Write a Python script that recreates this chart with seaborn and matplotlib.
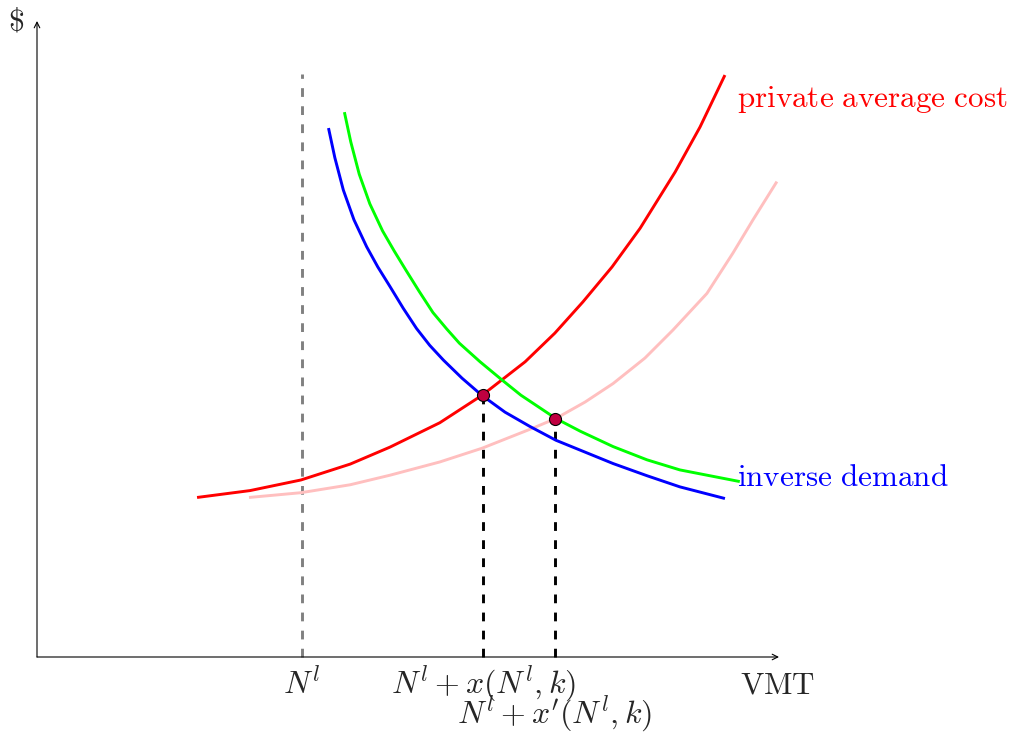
import matplotlib
matplotlib.use("Agg")
import matplotlib.pyplot as plt
import seaborn as sns
import pandas as pd

# ---- data (in diagram units) ----
red_x = [3.02, 4.02, 4.98, 5.91, 6.66, 7.60, 8.40, 9.21, 9.77, 10.30, 10.85, 11.38, 12.04, 12.51, 12.98]
red_y = [3.01, 3.14, 3.34, 3.64, 3.96, 4.42, 4.94, 5.57, 6.11, 6.70, 7.36, 8.09, 9.15, 10.00, 10.98]

pink_x = [4.00, 4.98, 5.91, 6.66, 7.60, 8.40, 9.36, 9.79, 10.34, 10.87, 11.47, 12.00, 12.64, 13.13, 13.51, 13.96]
pink_y = [3.01, 3.10, 3.25, 3.43, 3.68, 3.94, 4.32, 4.50, 4.81, 5.16, 5.64, 6.17, 6.86, 7.62, 8.25, 8.97]

blue_x = [5.50, 5.62, 5.78, 5.98, 6.22, 6.43, 6.66, 6.91, 7.16, 7.41, 7.67, 8.02, 8.39, 8.83, 9.30, 9.79,
          10.87, 11.51, 12.13, 12.98]
blue_y = [9.98, 9.42, 8.81, 8.25, 7.74, 7.36, 6.99, 6.58, 6.20, 5.88, 5.60, 5.26, 4.94, 4.62, 4.35, 4.09,
          3.65, 3.42, 3.21, 2.99]

green_x = [5.80, 5.92, 6.08, 6.28, 6.52, 6.74, 6.96, 7.21, 7.47, 7.73, 7.97, 8.36, 8.77, 9.13, 9.79, 10.25,
           10.87, 11.51, 12.13, 13.26]
green_y = [10.28, 9.72, 9.11, 8.55, 8.04, 7.66, 7.30, 6.90, 6.50, 6.19, 5.92, 5.57, 5.23, 4.94, 4.50, 4.26,
           3.97, 3.72, 3.53, 3.31]

eq_x = [8.42, 9.78]
eq_y = [4.95, 4.50]

n_l = 5.0
n_l_top = 11.0
x_max = 14.0
y_max = 12.0

tick_labels = [r"$N^l$", r"$N^l + x(N^l,k)$", r"$N^l + x'(N^l,k)$"]

# ---- style ----
sns.set_theme(style="white")
plt.rcParams["mathtext.fontset"] = "cm"
plt.rcParams["font.family"] = ["DejaVu Serif", "DejaVu Sans"]

fig = plt.figure(figsize=(10.14, 7.36), dpi=100)
ax = fig.add_axes([0, 0, 1, 1])

lw = 2.1

# axes with arrows
arrow = dict(arrowstyle="->", lw=0.8, color="black", shrinkA=0, shrinkB=0, mutation_scale=10)
ax.annotate("", xy=(x_max, 0), xytext=(0, 0), arrowprops=arrow)
ax.annotate("", xy=(0, y_max), xytext=(0, 0), arrowprops=arrow)

# dashed guide lines
ax.plot([n_l, n_l], [0, n_l_top], color="#808080", lw=lw, linestyle=(0, (3.0, 3.2)), zorder=2)
for xx, yy in zip(eq_x, eq_y):
    ax.plot([xx, xx], [0, yy], color="black", lw=lw, linestyle=(0, (3.0, 3.2)), zorder=2)

# curves
curves = [
    (pink_x, pink_y, "#FFBFBF"),
    (red_x, red_y, "#FF0000"),
    (green_x, green_y, "#00FF00"),
    (blue_x, blue_y, "#0000FF"),
]
for xs, ys, c in curves:
    df = pd.DataFrame({"x": xs, "y": ys})
    sns.lineplot(data=df, x="x", y="y", ax=ax, color=c, lw=lw, estimator=None, sort=False, zorder=3,
                 solid_joinstyle="round", solid_capstyle="butt")

# equilibrium points
sns.scatterplot(x=eq_x, y=eq_y, ax=ax, s=75, color="#BF0040", edgecolor="black", linewidth=0.8, zorder=5)

ax.set_xlim(-37 / 53, (1014 - 37) / 53)
ax.set_ylim(-(736 - 657) / 53, 657 / 53)
ax.axis("off")

fs = 22.4
fm = 23.0
# labels
ax.text(-0.40, 11.98, r"$\$$", fontsize=fm, ha="center", va="center")
ax.text(13.98, -0.68, r"$\mathrm{VMT}$", fontsize=fs, ha="center", va="baseline")
ax.text(n_l, -0.68, tick_labels[0], fontsize=fm, ha="center", va="baseline")
ax.text(eq_x[0], -0.68, tick_labels[1], fontsize=fm, ha="center", va="baseline")
ax.text(eq_x[1] - 0.01, -1.25, tick_labels[2], fontsize=fm, ha="center", va="baseline")
ax.text(13.20, 10.38, r"$\mathrm{private\ average\ cost}$", fontsize=fs, color="#FF0000",
        ha="left", va="baseline")
ax.text(13.20, 3.23, r"$\mathrm{inverse\ demand}$", fontsize=fs, color="#0000FF",
        ha="left", va="baseline")

fig.savefig("out.png", dpi=100)
